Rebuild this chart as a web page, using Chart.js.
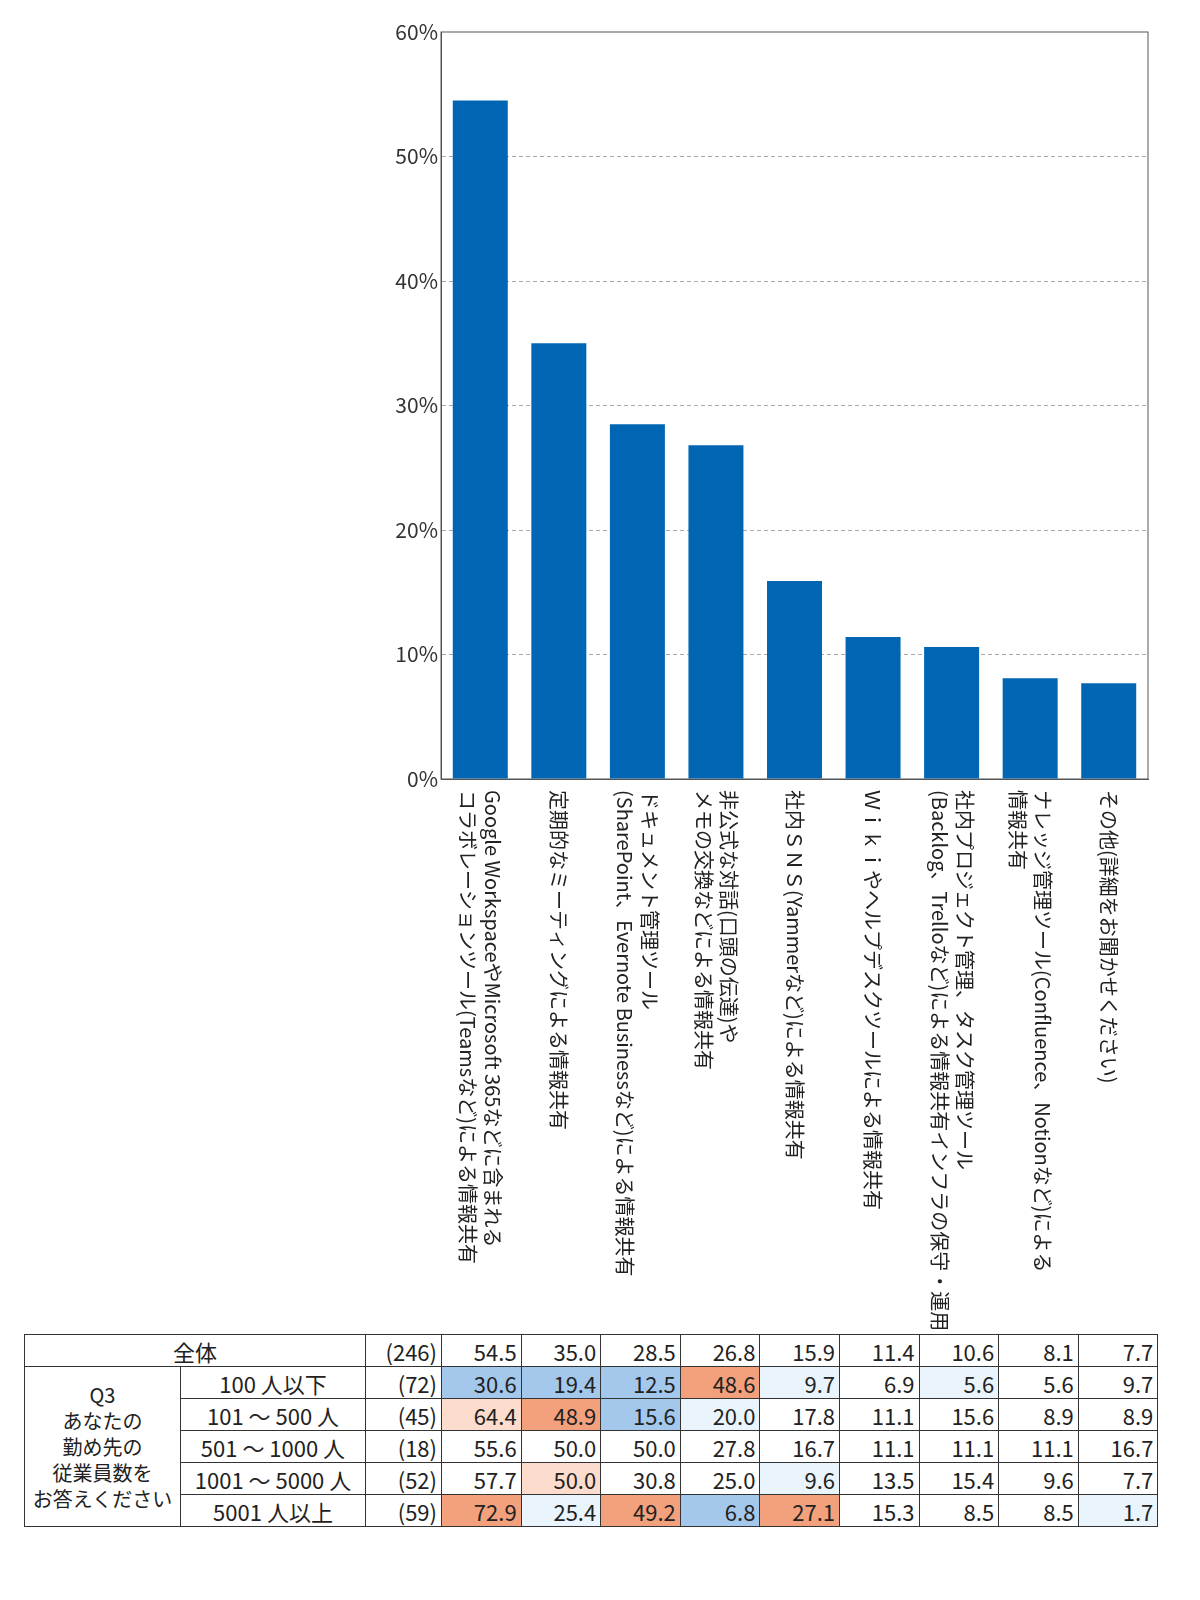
<!DOCTYPE html>
<html><head><meta charset="utf-8">
<script src="https://cdn.jsdelivr.net/npm/chart.js@4"></script>
<style>
body{margin:0;background:#fff;font-family:"Noto Sans CJK JP",sans-serif;}
#wrap{position:absolute;left:0;top:0;width:1200px;height:1330px;}
table{position:absolute;left:24px;top:1334px;border-collapse:collapse;font-size:22px;color:#222;table-layout:fixed;}
td{border:1.5px solid #333;height:31px;padding:0 4px;text-align:right;line-height:28px;white-space:nowrap;}
td.c{text-align:center;}
.B{background:#a3c8ec}.LB{background:#eaf4fc}.O{background:#f3a07c}.LO{background:#fcdccc}
</style></head><body>
<div id="wrap"><canvas id="c"></canvas></div>
<table id="t"></table>
<script>
// ---- data ----
const categories = [
  ["Google WorkspaceやMicrosoft 365などに含まれる","コラボレーションツール(Teamsなど)による情報共有"],
  ["定期的なミーティングによる情報共有"],
  ["ドキュメント管理ツール","(SharePoint、Evernote Businessなど)による情報共有"],
  ["非公式な対話(口頭の伝達)や","メモの交換などによる情報共有"],
  ["社内ＳＮＳ(Yammerなど)による情報共有"],
  ["Ｗｉｋｉやヘルプデスクツールによる情報共有"],
  ["社内プロジェクト管理、タスク管理ツール","(Backlog、Trelloなど)による情報共有インフラの保守・運用"],
  ["ナレッジ管理ツール(Confluence、Notionなど)による","情報共有"],
  ["その他(詳細をお聞かせください)"]
]
const totalValues = [54.5, 35.0, 28.5, 26.8, 15.9, 11.4, 10.6, 8.1, 7.7]
const rowLabels = ["100 人以下", "101 ～ 500 人", "501 ～ 1000 人", "1001 ～ 5000 人", "5001 人以上"]
const rowCounts = [72, 45, 18, 52, 59]
const rowValues = [
  [30.6, 19.4, 12.5, 48.6, 9.7, 6.9, 5.6, 5.6, 9.7],
  [64.4, 48.9, 15.6, 20.0, 17.8, 11.1, 15.6, 8.9, 8.9],
  [55.6, 50.0, 50.0, 27.8, 16.7, 11.1, 11.1, 11.1, 16.7],
  [57.7, 50.0, 30.8, 25.0, 9.6, 13.5, 15.4, 9.6, 7.7],
  [72.9, 25.4, 49.2, 6.8, 27.1, 15.3, 8.5, 8.5, 1.7]
]
const rowMarks = [
  ["B","B","B","O","LB","","LB","",""],
  ["LO","O","B","LB","","","","",""],
  ["","","","","","","","",""],
  ["","LO","","","LB","","","",""],
  ["O","LB","O","B","O","","","","LB"]
]

// ---- vertical category labels ----
const verticalLabels = {
  id: "verticalLabels",
  afterDraw(chart) {
    const ctx = chart.ctx
    const x = chart.scales.x
    ctx.save()
    ctx.font = "20px 'Noto Sans CJK JP'"
    ctx.fillStyle = "#222"
    ctx.textAlign = "left"
    ctx.textBaseline = "middle"
    categories.forEach((lines, i) => {
      const cx = x.getPixelForValue(i)
      lines.forEach((line, j) => {
        const off = (lines.length - 1) * 12.5 - j * 25
        ctx.save()
        ctx.translate(cx + off, 790)
        ctx.rotate(Math.PI / 2)
        ctx.fillText(line, 0, 0)
        ctx.restore()
      })
    })
    ctx.restore()
  }
}

new Chart(document.getElementById("c"), {
  type: "bar",
  data: {
    labels: categories.map((c, i) => i),
    datasets: [{ data: totalValues, backgroundColor: "#0066b3", categoryPercentage: 0.7, barPercentage: 1 }]
  },
  options: {
    responsive: true, maintainAspectRatio: false, animation: false,
    layout: { padding: { top: 32, right: 52, left: 0, bottom: 0 } },
    plugins: { legend: { display: false }, tooltip: { enabled: false } },
    scales: {
      x: {
        ticks: { display: false },
        grid: { display: false },
        border: { color: "#555" },
        afterFit(s) { s.height = 551 }
      },
      y: {
        min: 0, max: 60,
        ticks: { stepSize: 10, color: "#333", font: { size: 21, family: "'Noto Sans CJK JP'" }, callback: v => v + "%" },
        grid: { color: c => c.tick.value === 0 || c.tick.value === 60 ? "rgba(0,0,0,0)" : "#aaa", tickLength: 0 },
        border: { color: "#555", dash: [4, 3] },
        afterFit(s) { s.width = 441 }
      }
    }
  },
  plugins: [verticalLabels, {
    id: "frame",
    beforeDatasetsDraw(chart) {
      const a = chart.chartArea, ctx = chart.ctx
      ctx.save(); ctx.strokeStyle = "#555"; ctx.lineWidth = 1; ctx.setLineDash([])
      ctx.strokeRect(a.left, a.top, a.right - a.left, a.bottom - a.top); ctx.restore()
    }
  }]
})

// ---- table ----
const t = document.getElementById("t")
let html = "<colgroup><col style='width:156px'><col style='width:185px'><col style='width:76px'>" +
  "<col style='width:79.6px'>".repeat(9) + "</colgroup>"
html += "<tr><td class='c' colspan='2'>全体</td><td>(246)</td>" + totalValues.map(v => "<td>" + v.toFixed(1) + "</td>").join("") + "</tr>"
rowLabels.forEach((lab, r) => {
  html += "<tr>"
  if (r === 0) html += "<td class='c' rowspan='5' style='line-height:26px;font-size:20px'>Q3<br>あなたの<br>勤め先の<br>従業員数を<br>お答えください</td>"
  html += "<td class='c'>" + lab + "</td><td>(" + rowCounts[r] + ")</td>"
  html += rowValues[r].map((v, i) => "<td class='" + rowMarks[r][i] + "'>" + v.toFixed(1) + "</td>").join("")
  html += "</tr>"
})
t.innerHTML = html
</script>
</body></html>
